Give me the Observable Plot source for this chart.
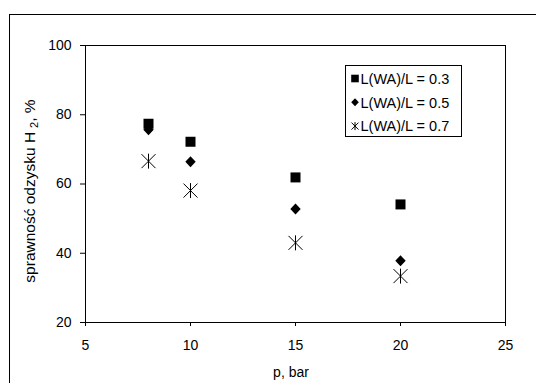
<!DOCTYPE html>
<html><head><meta charset="utf-8">
<script src="https://cdn.jsdelivr.net/npm/d3@7"></script>
<script src="https://cdn.jsdelivr.net/npm/@observablehq/plot@0.6"></script>
<style>
body{margin:0;background:#fff;}
#chart svg{display:block;}
</style>
</head><body><div id="chart"></div>
<script>
// ---- data ----
const pressure = [8, 10, 15, 20];
const seriesNames = ["L(WA)/L = 0.3", "L(WA)/L = 0.5", "L(WA)/L = 0.7"];
const eff03 = [77.4, 72.2, 61.9, 54.1];
const eff05 = [75.7, 66.4, 52.8, 37.8];
const eff07 = [66.6, 58.1, 43.0, 33.4];
const xTicks = [5, 10, 15, 20, 25];
const yTicks = [20, 40, 60, 80, 100];
const xLabel = "p, bar";
const yLabelMain = "sprawność odzysku H";
const yLabelSub = "2";
const yLabelEnd = ", %";

const rows03 = pressure.map((p, i) => ({p, v: eff03[i]}));
const rows05 = pressure.map((p, i) => ({p, v: eff05[i]}));
const rows07 = pressure.map((p, i) => ({p, v: eff07[i]}));

// ---- symbols ----
function squareSym(h){ return {draw(c){ c.moveTo(-h,-h); c.lineTo(h,-h); c.lineTo(h,h); c.lineTo(-h,h); c.closePath(); }}; }
function diamondSym(w,h){ return {draw(c){ c.moveTo(0,-h); c.lineTo(w,0); c.lineTo(0,h); c.lineTo(-w,0); c.closePath(); }}; }
function starSym(w,h){ return {draw(c){ c.moveTo(0,-h); c.lineTo(0,h); c.moveTo(-w,-w); c.lineTo(w,w); c.moveTo(-w,w); c.lineTo(w,-w); }}; }

const font = "'Liberation Sans', Arial, sans-serif";

const svg = Plot.plot({
  width: 536,
  height: 383,
  marginLeft: 85,
  marginRight: 31,
  marginTop: 45,
  marginBottom: 61,
  style: {fontFamily: font, fontSize: "14px", color: "black", background: "white"},
  x: {domain: [5, 25]},
  y: {domain: [20, 100]},
  marks: [
    Plot.axisY({ticks: yTicks, tickSize: 5, tickPadding: 9, label: null, fontSize: 14}),
    Plot.axisX({ticks: xTicks, tickSize: 4, tickPadding: 14, label: null, fontSize: 14}),
    Plot.frame({stroke: "black", strokeWidth: 1}),
    Plot.dot(rows03, {x: "p", y: "v", symbol: squareSym(5), fill: "black", stroke: "none"}),
    Plot.dot(rows05, {x: "p", y: "v", symbol: diamondSym(5.2, 5.5), fill: "black", stroke: "none"}),
    Plot.dot(rows07, {x: "p", y: "v", symbol: starSym(7, 7.5), fill: "none", stroke: "black", strokeWidth: 1})
  ]
});

const s = d3.select(svg);
s.style("overflow", "hidden");
// outer chart-area border
s.append("rect").attr("x", 9.5).attr("y", 14.5).attr("width", 540).attr("height", 400)
  .attr("fill", "none").attr("stroke", "black").attr("stroke-width", 1);

// axis titles
s.append("text").attr("x", 291).attr("y", 377).attr("text-anchor", "middle")
  .attr("font-family", font).attr("font-size", 14).attr("fill", "black").text(xLabel);
const yt = s.append("text").attr("transform", "translate(35,191) rotate(-90)")
  .attr("text-anchor", "middle").attr("font-family", font).attr("font-size", 15.5).attr("fill", "black");
yt.append("tspan").text(yLabelMain);
yt.append("tspan").attr("dx", 4).attr("dy", 3).attr("font-size", 11).text(yLabelSub);
yt.append("tspan").attr("dy", -3).text(yLabelEnd);

// legend
const legendSyms = [
  {sym: squareSym(3.8), fill: "black", stroke: "none"},
  {sym: diamondSym(3.8, 4), fill: "black", stroke: "none"},
  {sym: starSym(3.5, 4), fill: "none", stroke: "black"}
];
const lg = s.append("g");
lg.append("rect").attr("x", 345.5).attr("y", 65.5).attr("width", 116).attr("height", 71)
  .attr("fill", "white").attr("stroke", "black").attr("stroke-width", 1);
seriesNames.forEach((name, i) => {
  const cy = 78.5 + i * 23.8;
  lg.append("path").attr("transform", `translate(355,${cy})`)
    .attr("d", d3.symbol(legendSyms[i].sym)())
    .attr("fill", legendSyms[i].fill).attr("stroke", legendSyms[i].stroke);
  lg.append("text").attr("x", 360.5).attr("y", cy).attr("dy", "0.36em").attr("text-anchor", "start")
    .attr("font-family", font).attr("font-size", 14.5).attr("fill", "black").text(name);
});

document.getElementById("chart").appendChild(svg);
</script>
</body></html>
